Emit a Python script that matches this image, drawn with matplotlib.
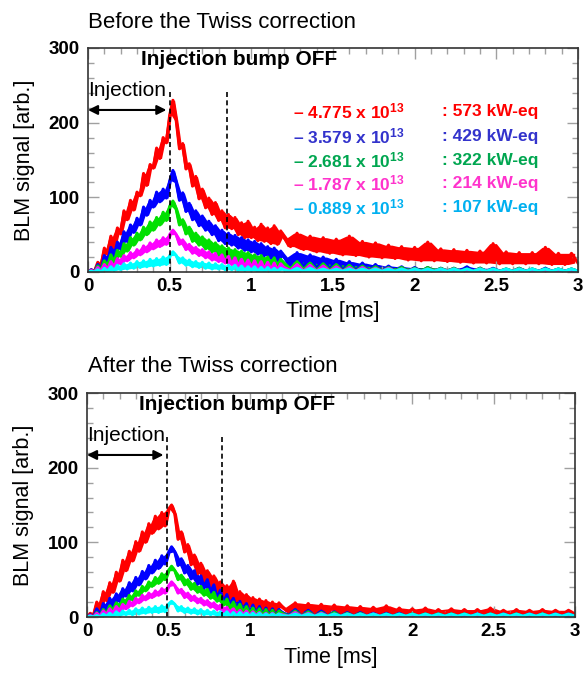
import matplotlib
matplotlib.use('Agg')
import matplotlib.pyplot as plt
import numpy as np
from matplotlib.ticker import MultipleLocator

plt.rcParams['font.family'] = ['Liberation Sans', 'DejaVu Sans']
plt.rcParams['mathtext.fontset'] = 'custom'
plt.rcParams['mathtext.rm'] = 'Liberation Sans'
plt.rcParams['mathtext.bf'] = 'Liberation Sans:bold'

# time axis, ms: every 0.02 ms up to 1.2 ms (61 samples), then every 0.04 ms (45 samples)
t = np.concatenate([np.linspace(0, 1.2, 61), np.linspace(1.24, 3.0, 45)])

# BLM signal before the Twiss correction
red_before = [0, 3, 1, 13, 8, 32, 24, 48, 33, 59,
              51, 82, 70, 96, 83, 107, 102, 132, 116, 144,
              139, 166, 152, 180, 173, 210, 230, 203, 165, 172,
              138, 145, 115, 128, 98, 111, 86, 99, 77, 93,
              69, 82, 59, 77, 58, 73, 50, 66, 46, 68,
              46, 60, 42, 64, 41, 59, 38, 62, 37, 55,
              46,
              34, 52, 30, 48, 27, 46, 25, 44, 23,
              48, 22, 41, 20, 39, 19, 36, 18, 34, 16,
              33, 15, 40, 15, 31, 14, 30, 13, 29, 12,
              28, 12, 38, 11, 27, 11, 26, 11, 26, 11,
              33, 10, 25, 10, 25, 12]
blue_before = [0, 3, 0, 10, 3, 22, 13, 33, 21, 40,
               31, 54, 41, 63, 53, 72, 63, 87, 76, 96,
               87, 107, 94, 111, 99, 122, 136, 120, 96, 106,
               81, 92, 70, 82, 62, 75, 56, 68, 50, 62,
               42, 56, 38, 52, 36, 49, 32, 46, 29, 43,
               27, 41, 24, 38, 22, 34, 19, 32, 16, 28,
               20,
               9, 26, 6, 23, 4, 20, 3, 17, 2,
               14, 2, 12, 1, 10, 1, 8, 1, 7, 1,
               6, 1, 6, 1, 5, 1, 5, 1, 7, 1,
               5, 1, 5, 1, 4, 1, 5, 1, 4, 1,
               5, 1, 4, 1, 4, 1]
green_before = [0, 2, 0, 8, 2, 15, 8, 23, 13, 29,
                21, 38, 28, 46, 36, 52, 43, 60, 50, 67,
                56, 73, 63, 80, 69, 88, 95, 84, 63, 70,
                51, 60, 41, 52, 36, 47, 31, 43, 27, 39,
                23, 35, 20, 32, 17, 30, 15, 28, 13, 26,
                11, 23, 9, 22, 8, 20, 7, 19, 6, 17,
                11,
                4, 14, 3, 12, 2, 11, 2, 10, 1,
                9, 1, 8, 1, 7, 1, 6, 1, 6, 1,
                5, 1, 6, 1, 5, 1, 5, 1, 4, 1,
                5, 1, 4, 1, 4, 1, 5, 1, 4, 1,
                4, 1, 4, 1, 4, 1]
magenta_before = [0, 2, 0, 6, 1, 10, 3, 14, 6, 18,
                  11, 22, 15, 26, 19, 30, 23, 35, 27, 39,
                  31, 43, 34, 46, 37, 50, 56, 50, 37, 43,
                  30, 37, 25, 33, 22, 30, 19, 27, 16, 25,
                  14, 23, 12, 21, 10, 19, 8, 17, 7, 16,
                  6, 15, 5, 14, 4, 13, 3, 12, 2, 11,
                  6,
                  2, 10, 1, 9, 1, 8, 1, 7, 1,
                  6, 1, 6, 1, 5, 1, 5, 1, 4, 1,
                  4, 1, 4, 1, 4, 1, 4, 1, 3, 1,
                  4, 1, 3, 1, 3, 1, 4, 1, 3, 1,
                  3, 1, 3, 1, 3, 1]
cyan_before = [0, 1, 0, 3, 0, 5, 1, 7, 2, 9,
               3, 11, 4, 12, 5, 14, 6, 15, 7, 17,
               8, 18, 9, 20, 10, 22, 27, 22, 12, 19,
               9, 16, 7, 14, 6, 13, 5, 12, 4, 11,
               4, 10, 3, 9, 3, 9, 2, 8, 2, 7,
               2, 7, 1, 6, 1, 6, 1, 5, 1, 5,
               3,
               1, 5, 1, 5, 1, 4, 1, 4, 1,
               4, 1, 4, 1, 4, 1, 4, 1, 4, 1,
               4, 1, 4, 1, 4, 1, 4, 1, 4, 1,
               4, 1, 4, 1, 4, 1, 4, 1, 4, 1,
               4, 1, 4, 1, 4, 1]

# BLM signal after the Twiss correction
red_after = [0, 5, 2, 20, 10, 34, 22, 46, 33, 60,
             48, 76, 62, 88, 75, 101, 88, 114, 100, 125,
             112, 135, 118, 140, 122, 144, 150, 138, 104, 114,
             87, 97, 70, 83, 58, 72, 49, 62, 41, 55,
             34, 47, 28, 42, 25, 48, 22, 34, 18, 30,
             15, 26, 13, 24, 11, 22, 10, 20, 9, 19,
             13,
             7, 19, 6, 18, 5, 17, 5, 16, 4,
             15, 4, 14, 4, 13, 4, 15, 3, 12, 3,
             11, 3, 12, 3, 10, 3, 11, 3, 10, 3,
             10, 3, 12, 3, 9, 3, 10, 3, 9, 3,
             10, 3, 9, 3, 9, 4]
blue_after = [0, 3, 0, 11, 3, 18, 9, 25, 14, 31,
              21, 38, 28, 46, 35, 53, 43, 61, 51, 69,
              59, 76, 65, 82, 71, 86, 94, 87, 69, 78,
              59, 69, 51, 62, 44, 55, 39, 50, 33, 43,
              25, 36, 19, 30, 14, 25, 10, 21, 7, 18,
              5, 16, 4, 14, 3, 12, 2, 11, 2, 10,
              6,
              2, 10, 1, 9, 1, 8, 1, 7, 1,
              6, 1, 6, 1, 5, 1, 5, 1, 5, 1,
              4, 1, 4, 1, 4, 1, 4, 1, 4, 1,
              4, 1, 4, 1, 4, 1, 4, 1, 4, 1,
              4, 1, 4, 1, 4, 1]
green_after = [0, 2, 0, 6, 1, 10, 4, 15, 8, 19,
               13, 24, 18, 29, 23, 35, 29, 41, 35, 47,
               41, 53, 45, 58, 50, 62, 68, 62, 50, 56,
               43, 50, 37, 45, 33, 41, 29, 37, 25, 33,
               21, 29, 16, 24, 12, 20, 9, 17, 6, 14,
               4, 12, 3, 11, 2, 10, 1, 9, 1, 8,
               5,
               1, 8, 1, 7, 1, 6, 1, 6, 1,
               5, 1, 5, 1, 4, 1, 4, 1, 4, 1,
               4, 1, 4, 1, 4, 1, 4, 1, 4, 1,
               3, 1, 4, 1, 3, 1, 4, 1, 3, 1,
               4, 1, 3, 1, 3, 1]
magenta_after = [0, 2, 0, 5, 1, 8, 3, 11, 5, 14,
                 8, 17, 11, 21, 15, 25, 19, 29, 23, 32,
                 26, 35, 29, 38, 32, 41, 47, 42, 32, 37,
                 26, 32, 22, 28, 19, 25, 16, 22, 13, 19,
                 10, 16, 7, 13, 5, 11, 4, 9, 3, 8,
                 2, 7, 2, 6, 1, 5, 1, 5, 1, 4,
                 3,
                 1, 6, 1, 5, 1, 5, 1, 4, 1,
                 4, 1, 4, 1, 4, 1, 3, 1, 3, 1,
                 3, 1, 3, 1, 3, 1, 3, 1, 3, 1,
                 3, 1, 3, 1, 3, 1, 3, 1, 3, 1,
                 3, 1, 3, 1, 3, 1]
cyan_after = [0, 1, 0, 2, 0, 4, 1, 5, 1, 7,
              2, 8, 3, 9, 3, 11, 4, 12, 5, 13,
              6, 14, 6, 15, 7, 17, 21, 17, 8, 14,
              6, 12, 5, 11, 4, 10, 3, 9, 3, 8,
              2, 7, 2, 7, 1, 6, 1, 6, 1, 5,
              1, 5, 1, 5, 1, 4, 1, 4, 1, 4,
              2,
              1, 4, 1, 4, 1, 4, 1, 4, 1,
              4, 1, 4, 1, 4, 1, 4, 1, 4, 1,
              4, 1, 4, 1, 4, 1, 4, 1, 4, 1,
              4, 1, 4, 1, 4, 1, 4, 1, 4, 1,
              4, 1, 4, 1, 4, 1]

intensities = ['4.775', '3.579', '2.681', '1.787', '0.889']
powers = ['573', '429', '322', '214', '107']
line_colors = ['#ff0000', '#0000ff', '#00e000', '#ff00ff', '#00ffff']
text_colors = ['#ff0000', '#3333cc', '#00a650', '#ff33cc', '#00b0f0']

before = [red_before, blue_before, green_before, magenta_before, cyan_before]
after = [red_after, blue_after, green_after, magenta_after, cyan_after]

# dashed markers: end of injection / injection bump off
marks_before = [0.50, 0.85]
marks_after = [0.49, 0.83]


def draw_panel(ax, series, marks, with_legend):
    tm = (t[:-1] + t[1:]) / 2
    for y, c in zip(series, line_colors):
        y = np.asarray(y, dtype=float)
        # noisy signal: band spanned by each pair of neighbouring samples
        lo = np.minimum(y[:-1], y[1:])
        hi = np.maximum(y[:-1], y[1:])
        ax.fill_between(tm, lo, hi, color=c, linewidth=0)
        ax.plot(t, y, color=c, linewidth=2.2)
    for m in marks:
        ax.plot([m, m], [0, 245], color='black', linestyle=(0, (3, 2)),
                linewidth=1.2)
    ax.annotate('', xy=(0.0, 217), xytext=(marks[0] - 0.02, 217),
                arrowprops=dict(arrowstyle='<|-|>', color='black', lw=1.5,
                                mutation_scale=14, shrinkA=0, shrinkB=0))
    ax.text(0.0, 230, 'Injection', fontsize=15, ha='left', va='bottom')
    ax.text(0.925, 284, 'Injection bump OFF', fontsize=15, fontweight='bold',
            ha='center', va='center')
    if with_legend:
        rows = [215, 182, 150, 118, 86]
        for i in range(5):
            ax.text(1.255, rows[i],
                    '– ' + intensities[i] + r' x $\mathbf{10^{13}}$',
                    color=text_colors[i], fontsize=12.5, fontweight='bold',
                    ha='left', va='center')
            ax.text(2.17, rows[i], ': ' + powers[i] + ' kW-eq',
                    color=text_colors[i], fontsize=12.5, fontweight='bold',
                    ha='left', va='center')

    ax.set_xlim(0, 3)
    ax.set_ylim(0, 300)
    ax.xaxis.set_major_locator(MultipleLocator(0.5))
    ax.xaxis.set_minor_locator(MultipleLocator(0.1))
    ax.yaxis.set_major_locator(MultipleLocator(100))
    ax.yaxis.set_minor_locator(MultipleLocator(20))
    ax.set_xticks([0, 0.5, 1, 1.5, 2, 2.5, 3])
    ax.set_xticklabels(['0', '0.5', '1', '1.5', '2', '2.5', '3'])
    ax.tick_params(which='both', direction='in', top=True, right=True,
                   color='#a0a0a0', width=1.0, labelsize=13.5)
    ax.tick_params(which='major', length=8)
    ax.tick_params(which='minor', length=4.5)
    ax.tick_params(axis='y', pad=6)
    ax.tick_params(axis='x', pad=4)
    for lab in ax.get_xticklabels() + ax.get_yticklabels():
        lab.set_fontweight('bold')
    for s in ax.spines.values():
        s.set_linewidth(1.2)
        s.set_color('#333333')
    ax.set_xlabel('Time [ms]', fontsize=15.5, labelpad=5)
    ax.set_ylabel('BLM signal [arb.]', fontsize=15.5, labelpad=10)


fig = plt.figure(figsize=(5.83, 6.79), dpi=100)

ax1 = fig.add_axes([88 / 583, 1 - 272 / 679, 490 / 583, 224 / 679])
draw_panel(ax1, before, marks_before, True)
fig.text(88 / 583, 1 - 22 / 679, 'Before the Twiss correction',
         fontsize=16, ha='left', va='center')

ax2 = fig.add_axes([87 / 583, 1 - 617 / 679, 488 / 583, 224 / 679])
draw_panel(ax2, after, marks_after, False)
fig.text(88 / 583, 1 - 366 / 679, 'After the Twiss correction',
         fontsize=16, ha='left', va='center')

fig.savefig('out.png', dpi=100)
